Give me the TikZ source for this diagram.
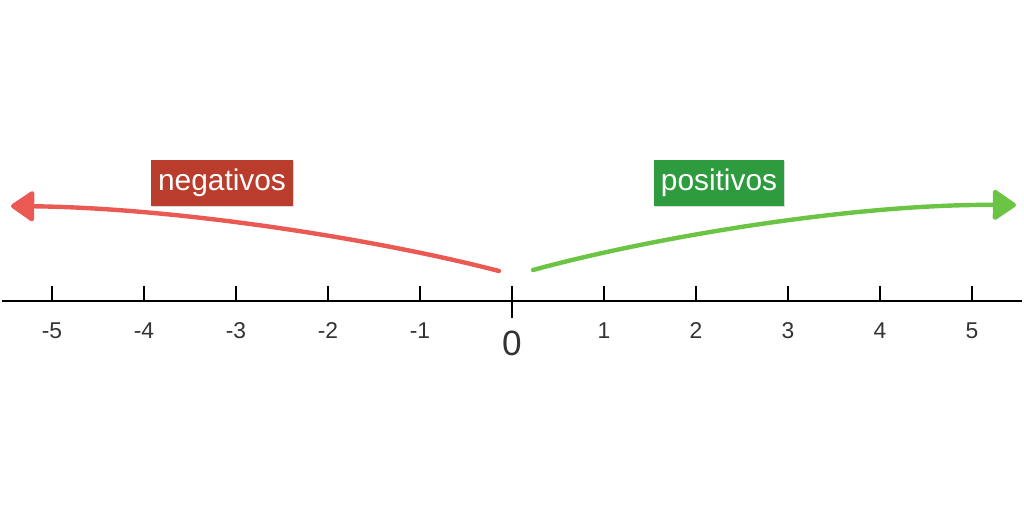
\documentclass[tikz,border=0pt]{standalone}
\usepackage{fontspec}
\setmainfont{Liberation Sans}
\usetikzlibrary{arrows.meta,shadows}
\definecolor{negred}{HTML}{B93C2D}
\definecolor{posgreen}{HTML}{2F9B3F}
\definecolor{chalkred}{HTML}{EA5A52}
\definecolor{chalkgreen}{HTML}{6CC444}
\definecolor{numgray}{HTML}{333333}
\begin{document}
\begin{tikzpicture}[x=0.02cm, y=-0.02cm]
        \tikzstyle{tag} = [fill=#1, text=white, minimum height=0.92cm, inner sep=0pt,
                           font=\fontsize{17}{17}\selectfont, drop shadow={shadow xshift=0.5pt, shadow yshift=-0.7pt, opacity=0.3}]
        \tikzstyle{num} = [text=numgray, font=\fontsize{13}{13}\selectfont, inner sep=0pt]
        \tikzstyle{chalk} = [line width=2.5pt, line cap=round, -{Triangle[length=0.5cm, width=0.66cm, round]}]
        \useasboundingbox (0,0) rectangle (1024,512);
        % axis
        \coordinate (L) at (2, 301);
        \coordinate (R) at (1022, 301);
        \draw[line width=1.3pt] (L) -- (R);
        \foreach \n [evaluate=\n as \px using 512+92*\n] in {-5,...,-1,1,2,...,5} {
          \draw[line width=1.3pt] (\px, 286) -- (\px, 301);
          \node[num] (n\n) at (\px, 331) {\n};
        }
        \draw[line width=1.3pt] (512, 286) -- (512, 318);
        \node[text=numgray, font=\fontsize{20}{20}\selectfont, inner sep=0pt] (zero) at (512, 343) {0};
        % labels
        \node[tag=negred, minimum width=2.84cm] (neg) at (222, 183) {negativos};
        \node[tag=posgreen, minimum width=2.6cm] (pos) at (719, 183) {positivos};
        % arrows
        \coordinate (negstart) at (499, 271);
        \coordinate (negend) at (11, 206);
        \coordinate (posstart) at (533, 270);
        \coordinate (posend) at (1016, 205);
        \draw[chalk, chalkred] (negstart) .. controls (380, 240) and (180, 208) .. (negend);
        \draw[chalk, chalkgreen] (posstart) .. controls (650, 238) and (850, 204) .. (posend);
      \end{tikzpicture}
\end{document}
